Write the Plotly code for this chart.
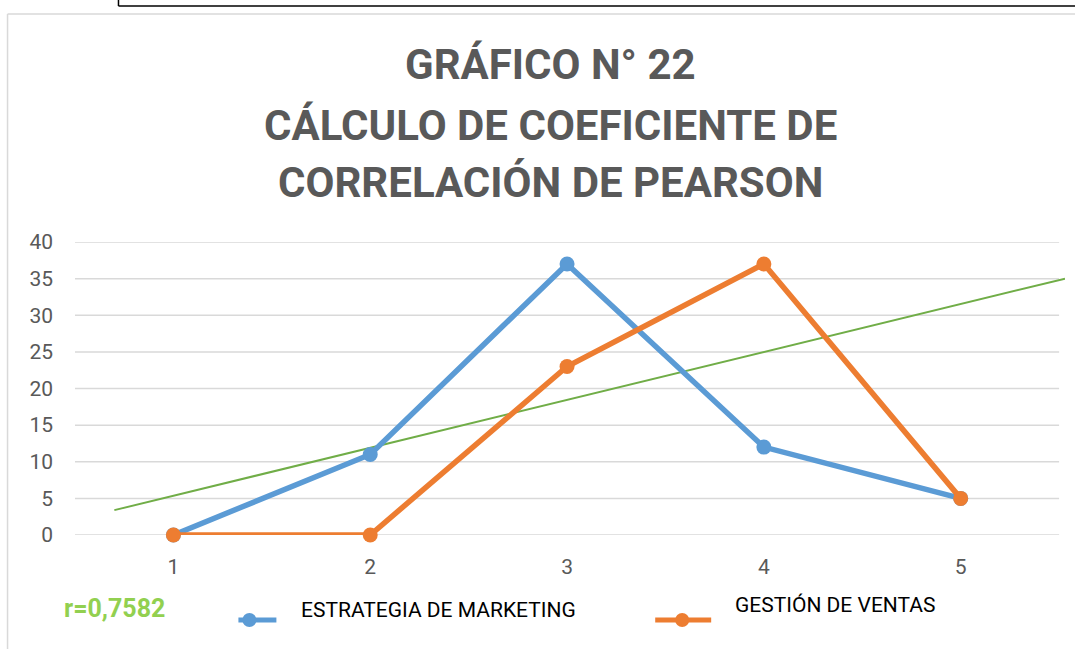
import plotly.graph_objects as go

categories = [1, 2, 3, 4, 5]
marketing = [0, 11, 37, 12, 5]
ventas = [0, 0, 23, 37, 5]
trend_x = [0.7, 5.53]
trend_y = [3.4, 35.0]
y_ticks = [0, 5, 10, 15, 20, 25, 30, 35, 40]
title_lines = ["GRÁFICO N° 22", "CÁLCULO DE COEFICIENTE DE", "CORRELACIÓN DE PEARSON"]
series_names = ["ESTRATEGIA DE MARKETING", "GESTIÓN DE VENTAS"]
r_label = "r=0,7582"

W_IMG, H_IMG = 1075, 649
L, R, T, B = 74.5, 10, 242, 114
PW = W_IMG - L - R
PH = H_IMG - T - B


def px(x):
    return (x - L) / PW


def py(y):
    return (H_IMG - B - y) / PH


FONT = "Liberation Sans Narrow, Roboto, sans-serif"
BLUE = "#5B9BD5"
ORANGE = "#ED7D31"
GREEN = "#70AD47"
GREY = "#595959"

fig = go.Figure()

fig.add_trace(go.Scatter(x=trend_x, y=trend_y, mode="lines",
                         line=dict(color=GREEN, width=2), showlegend=False, hoverinfo="skip"))
fig.add_trace(go.Scatter(x=categories, y=marketing, mode="lines+markers", name=series_names[0],
                         line=dict(color=BLUE, width=5.5), marker=dict(size=15, color=BLUE),
                         cliponaxis=False, showlegend=False))
fig.add_trace(go.Scatter(x=categories, y=ventas, mode="lines+markers", name=series_names[1],
                         line=dict(color=ORANGE, width=5.5), marker=dict(size=15, color=ORANGE),
                         cliponaxis=False, showlegend=False))

shapes = []
for v in y_ticks:
    shapes.append(dict(type="line", xref="x", yref="y", x0=0.5, x1=5.5, y0=v, y1=v,
                       line=dict(color="#D9D9D9", width=1.5), layer="below"))
shapes.append(dict(type="line", xref="paper", yref="paper", x0=px(118), x1=px(1075), y0=py(6), y1=py(6),
                   line=dict(color="black", width=1.5)))
shapes.append(dict(type="line", xref="paper", yref="paper", x0=px(118), x1=px(118), y0=py(0), y1=py(6),
                   line=dict(color="black", width=1.5)))
shapes.append(dict(type="line", xref="paper", yref="paper", x0=px(7), x1=px(1075), y0=py(14), y1=py(14),
                   line=dict(color="#D9D9D9", width=1.5)))
shapes.append(dict(type="line", xref="paper", yref="paper", x0=px(7), x1=px(7), y0=py(14), y1=py(649),
                   line=dict(color="#D9D9D9", width=1.5)))
for (x0, x1, cx, col) in [(238, 276, 249, BLUE), (655, 711, 682, ORANGE)]:
    shapes.append(dict(type="line", xref="paper", yref="paper", x0=px(x0), x1=px(x1), y0=py(620), y1=py(620),
                       line=dict(color=col, width=5)))
    shapes.append(dict(type="circle", xref="paper", yref="paper", x0=px(cx - 7), x1=px(cx + 7),
                       y0=py(627), y1=py(613), fillcolor=col, line=dict(color=col, width=0)))

annotations = []
for line, yc in zip(title_lines, [65, 125, 182]):
    annotations.append(dict(text="<b>%s</b>" % line, xref="paper", yref="paper", x=px(550), y=py(yc),
                            xanchor="center", yanchor="middle", showarrow=False,
                            font=dict(family=FONT, size=42, color=GREY)))
annotations.append(dict(text="<b>%s</b>" % r_label, xref="paper", yref="paper", x=px(61), y=py(608),
                        xanchor="left", yanchor="middle", showarrow=False,
                        font=dict(family=FONT, size=25, color="#92D050")))
annotations.append(dict(text=series_names[0], xref="paper", yref="paper", x=px(299), y=py(610),
                        xanchor="left", yanchor="middle", showarrow=False,
                        font=dict(family=FONT, size=21, color="black")))
annotations.append(dict(text=series_names[1], xref="paper", yref="paper", x=px(733), y=py(605),
                        xanchor="left", yanchor="middle", showarrow=False,
                        font=dict(family=FONT, size=21, color="black")))

fig.update_layout(
    width=W_IMG, height=H_IMG,
    margin=dict(l=L, r=R, t=T, b=B, pad=0),
    paper_bgcolor="white", plot_bgcolor="white",
    shapes=shapes, annotations=annotations,
    font=dict(family=FONT, color=GREY, size=21),
    xaxis=dict(range=[0.5, 5.53], tickvals=categories, ticktext=[str(c) for c in categories],
               showgrid=False, zeroline=False, showline=False, ticks="", ticklabelstandoff=17,
               tickfont=dict(size=21, color=GREY), fixedrange=True),
    yaxis=dict(range=[0, 40], tickvals=y_ticks, showgrid=False, zeroline=False, showline=False,
               ticks="", ticklabelstandoff=21, tickfont=dict(size=21, color=GREY), fixedrange=True),
    showlegend=False,
)

fig.write_html("out.html", config={"displayModeBar": False},
               post_script="document.body.style.margin='0';document.body.style.overflow='hidden';")
